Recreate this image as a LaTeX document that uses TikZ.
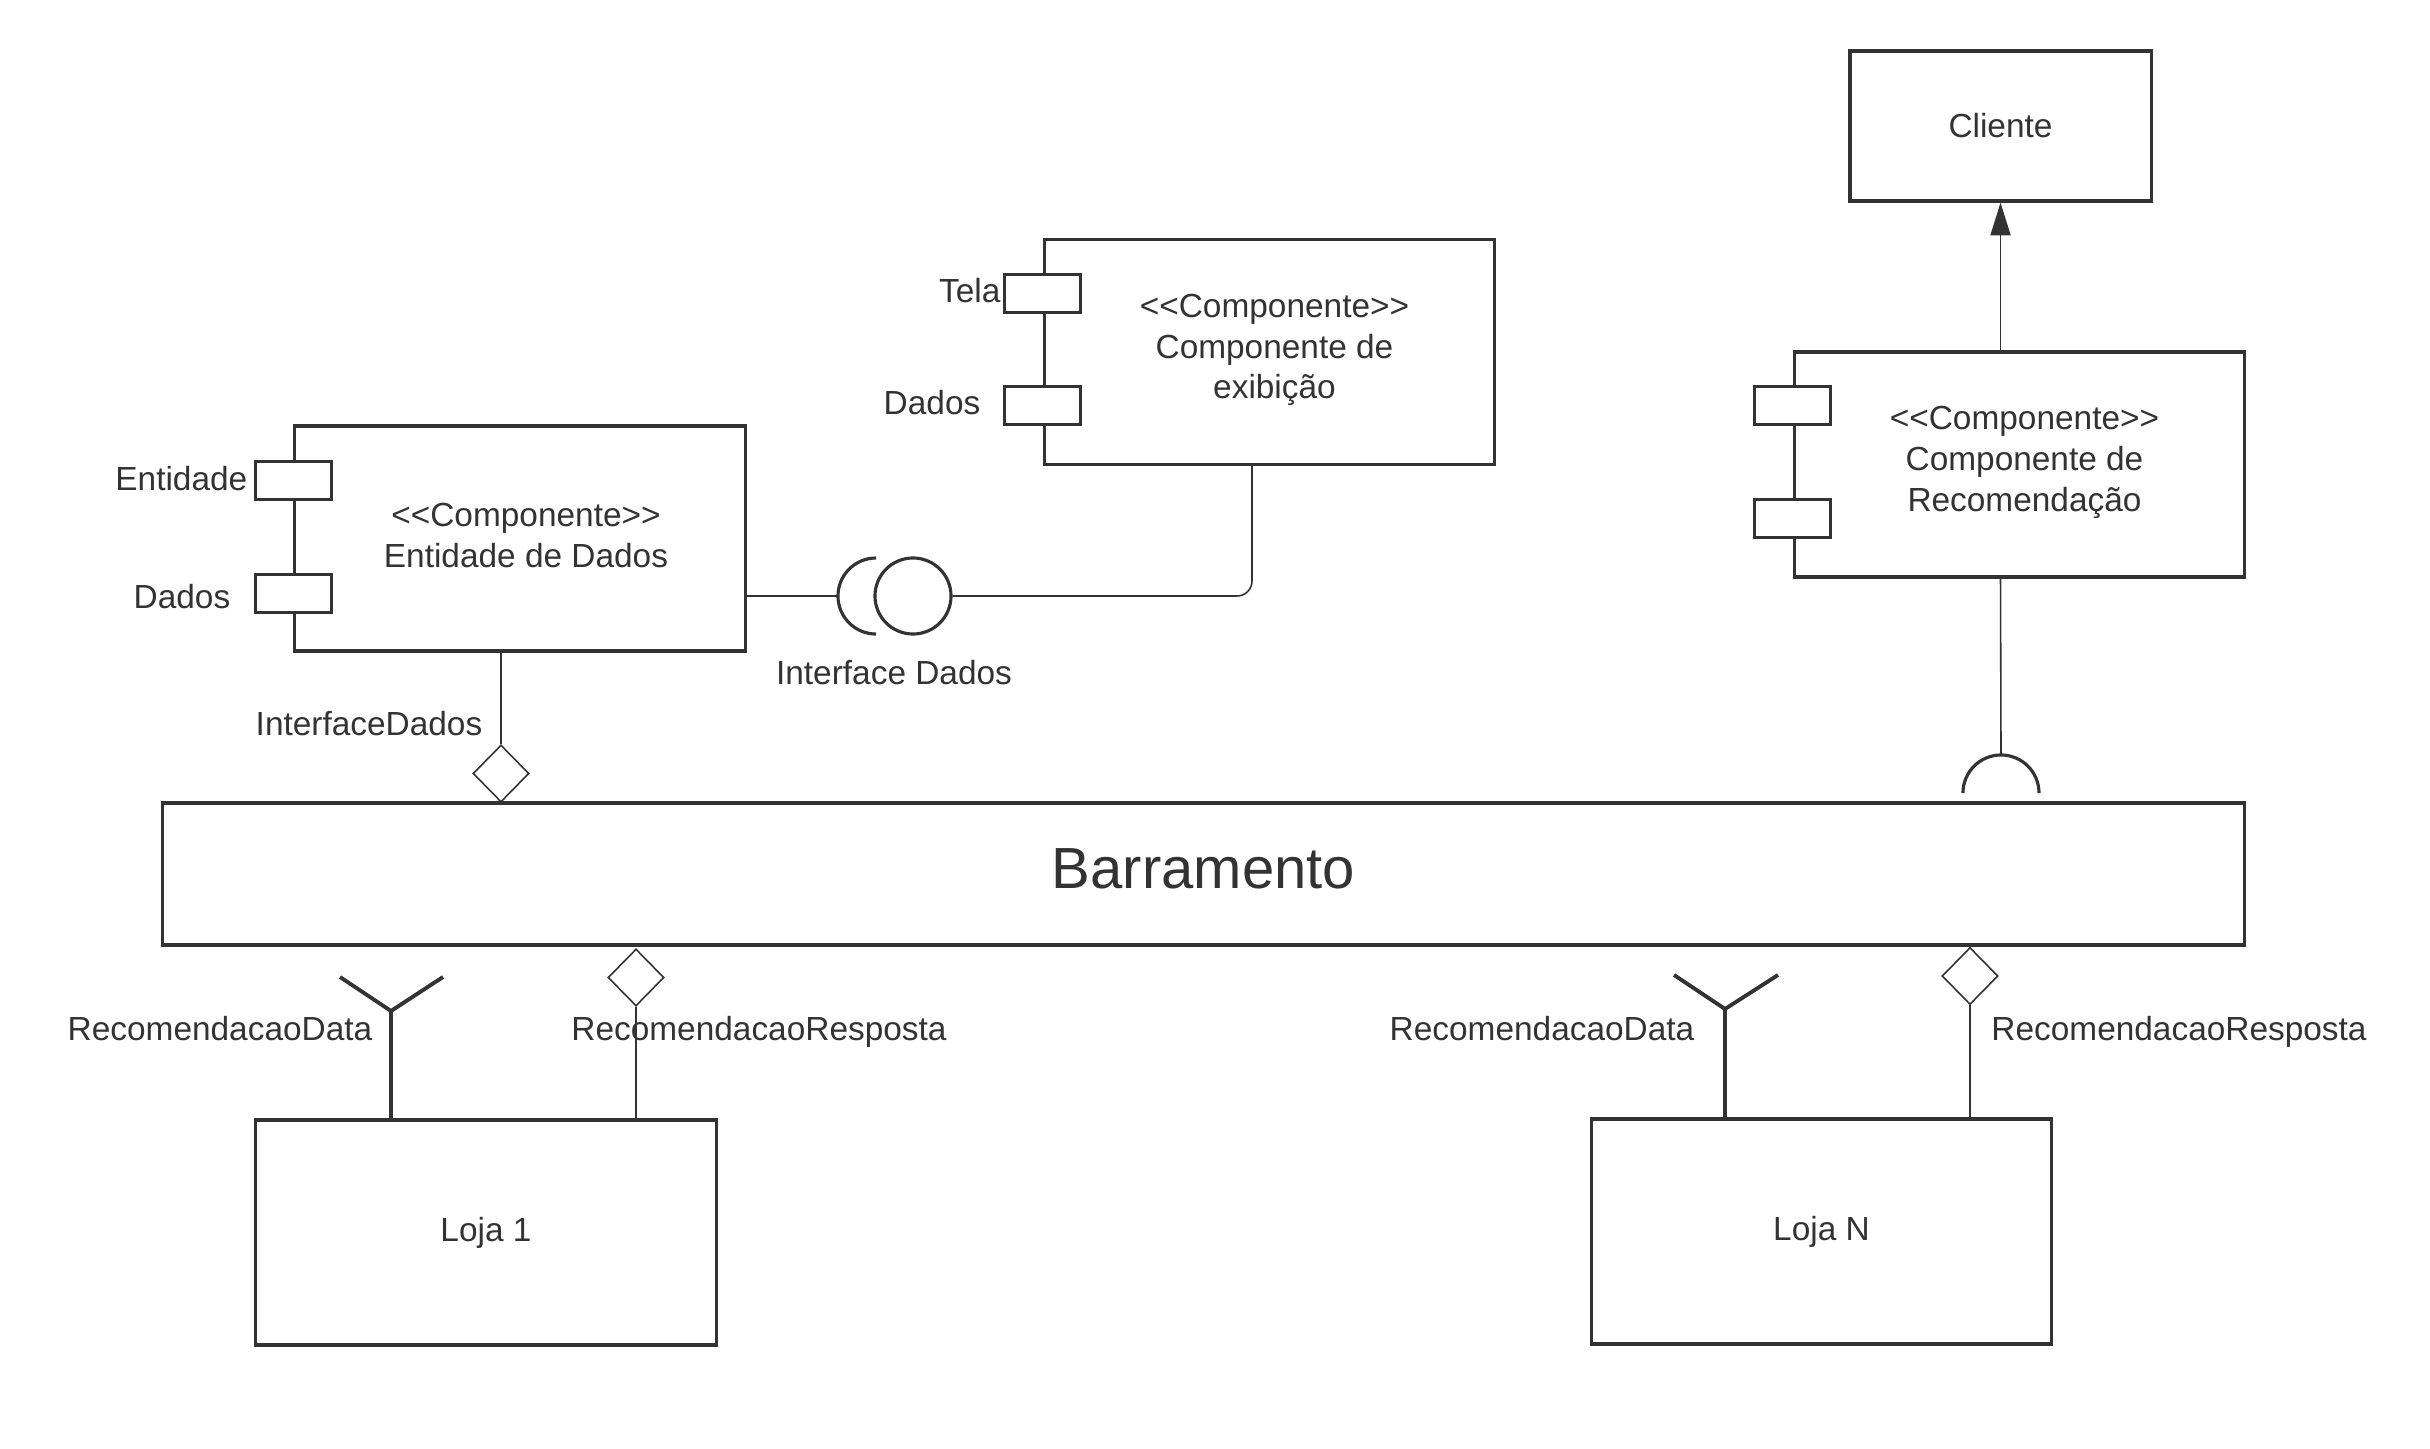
\documentclass[tikz,border=0pt]{standalone}
\usepackage{fontspec}
\setmainfont{Liberation Sans}
\usetikzlibrary{arrows.meta,shapes.geometric,calc}
\definecolor{dk}{HTML}{333333}
\newcommand\fs{\fontsize{9.5}{11.6}\selectfont}
\begin{document}
\begin{tikzpicture}[x=0.01cm,y=-0.01cm,
  box/.style={draw=dk, line width=0.9pt, text=dk, align=center, font=\fs, inner sep=0},
  comp/.style={box, minimum width=4.5cm, minimum height=2.25cm},
  port/.style={draw=dk, fill=white, line width=0.9pt, minimum width=0.76cm, minimum height=0.38cm, inner sep=0},
  lbl/.style={text=dk, font=\fs, inner sep=0, align=center},
  thinl/.style={draw=dk, line width=0.45pt},
  thickl/.style={draw=dk, line width=0.9pt},
  forkl/.style={draw=dk, line width=1.1pt},
  dia/.style={diamond, draw=dk, line width=0.45pt, fill=white, minimum width=0.56cm, minimum height=0.57cm, inner sep=0}
]
\useasboundingbox (0,0) rectangle (2430,1449);

% boxes
\node[box, minimum width=3.01cm, minimum height=1.5cm] (cliente) at (2000.5,126) {Cliente};
\node[comp] (recom) at (2019.5,464.5) {};
\node[lbl] (recomt) at ($(recom)+(5,-2)$) {<{}<Componente>{}>\\Componente de\\Recomendação};
\node[comp] (exib) at (1269.5,352) {};
\node[lbl] (exibt) at ($(exib)+(5,-2)$) {<{}<Componente>{}>\\Componente de\\exibição};
\node[comp] (ent) at (520,538.5) {};
\node[lbl] (entt) at ($(ent)+(6,-3)$) {<{}<Componente>{}>\\Entidade de Dados};
\node[box, minimum width=20.81cm, minimum height=1.42cm] (barr) at (1203.5,874) {};
\node[lbl, font=\fontsize{16.5}{20}\selectfont] (barrt) at ($(barr)+(0,-5)$) {Barramento};
\node[box, minimum width=4.6cm, minimum height=2.25cm] (loja1) at (486,1232.5) {Loja 1};
\node[box, minimum width=4.59cm, minimum height=2.25cm] (lojaN) at (1821.5,1231.5) {Loja N};

% ports
\node[port] (entp1) at ($(ent.north west)+(0,56.5)$) {};
\node[port] (entp2) at ($(ent.north west)+(0,169)$) {};
\node[port] (exp1) at ($(exib.north west)+(0,56)$) {};
\node[port] (exp2) at ($(exib.north west)+(0,168)$) {};
\node[port] (rcp1) at ($(recom.north west)+(0,55.5)$) {};
\node[port] (rcp2) at ($(recom.north west)+(0,168.5)$) {};

% port labels
\node[lbl, anchor=east] (ltela) at (1001,291) {Tela};
\node[lbl, anchor=east] (ldad1) at (981,403) {Dados};
\node[lbl, anchor=east] (lent) at (248,479) {Entidade};
\node[lbl, anchor=east] (ldad2) at (231,597) {Dados};

% ball and socket
\node[circle, draw=dk, line width=0.9pt, minimum size=0.76cm, inner sep=0] (ball) at (913,596) {};
\coordinate (sock) at (837,596);
\coordinate (sockt) at (876,558);
\draw[thinl] (ball -| ent.east) -- (sock);
\draw[thickl] (sockt) arc[start angle=90, end angle=270, radius=0.38cm];
\coordinate (ex) at (1252,464);
\draw[thinl, rounded corners=0.15cm] (ball.east) -| (ex);
\node[lbl] (lif) at (894,673) {Interface Dados};

% recomendacao to cliente
\draw[thinl, -{Triangle[width=5.7pt,length=9.3pt]}] (cliente.south |- recom.north) -- (cliente.south);
\coordinate (stop) at (2001,755);
\coordinate (sockb) at (2039,793);
\draw[thinl] (cliente.south |- recom.south) -- (stop);
\draw[thickl] (sockb) arc[start angle=0, end angle=180, radius=0.38cm];

% diamonds
\node[dia] (d1) at (501,773.5) {};
\draw[thinl] (d1.north |- ent.south) -- (d1.north);
\node[lbl] (lid) at (369,724) {InterfaceDados};

\node[dia] (d2) at (636,977.5) {};
\draw[thinl] (d2.south) -- (d2.south |- loja1.north);
\node[dia] (d3) at (1970,976) {};
\draw[thinl] (d3.south) -- (d3.south |- lojaN.north);

% forks
\coordinate (f1) at (391,1011);
\coordinate (f1a) at (340,977);
\coordinate (f1b) at (443,977);
\draw[forkl] (f1 |- loja1.north) -- (f1);
\draw[forkl] (f1a) -- (f1) -- (f1b);
\coordinate (f2) at (1725,1009);
\coordinate (f2a) at (1674,975);
\coordinate (f2b) at (1778,975);
\draw[forkl] (f2 |- lojaN.north) -- (f2);
\draw[forkl] (f2a) -- (f2) -- (f2b);

% labels
\node[lbl] (lrd1) at (220,1029) {RecomendacaoData};
\node[lbl] (lrr1) at (759,1032) {RecomendacaoResposta};
\node[lbl] (lrd2) at (1542,1029) {RecomendacaoData};
\node[lbl] (lrr2) at (2179,1032) {RecomendacaoResposta};
\end{tikzpicture}
\end{document}
